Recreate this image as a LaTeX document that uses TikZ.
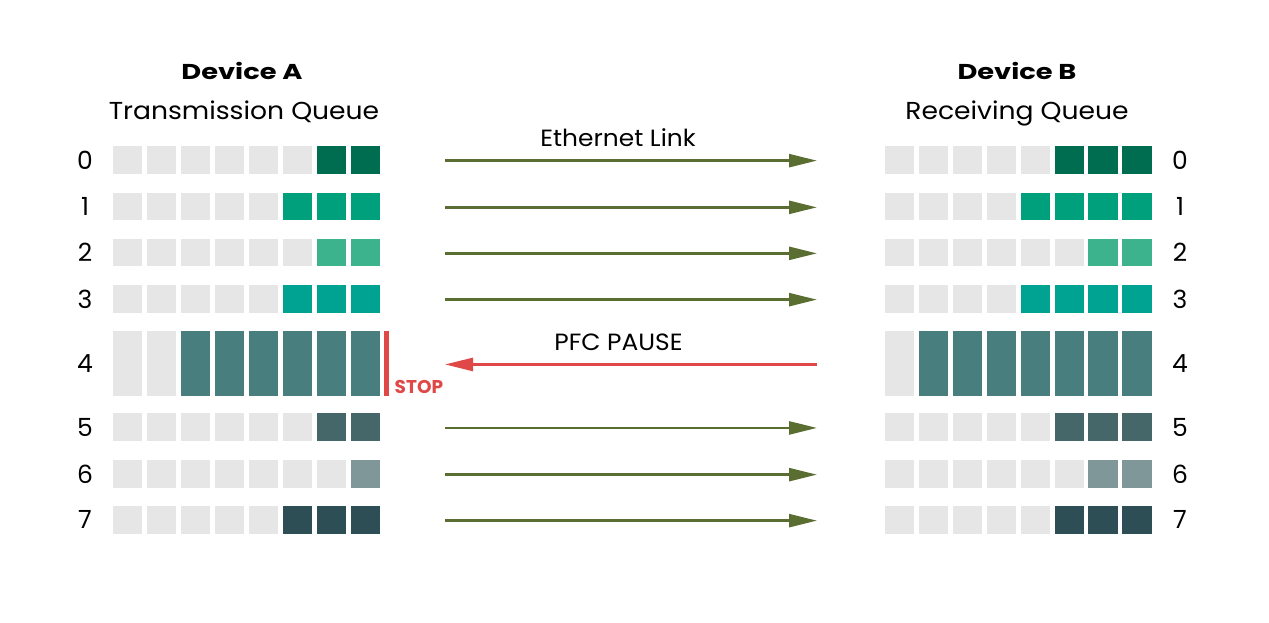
\documentclass[tikz,border=0pt]{standalone}
\usepackage{fontspec}
\setmainfont{Poppins}
\newfontfamily\titlefont[FakeStretch=1.27]{Poppins}
\newfontfamily\subfont[FakeStretch=1.085]{Poppins}
\newfontfamily\linkfont[FakeStretch=1.06]{Poppins}
\usetikzlibrary{arrows.meta}
\definecolor{cgrey}{HTML}{E6E6E6}
\definecolor{qa}{HTML}{006D50}
\definecolor{qb}{HTML}{00A07C}
\definecolor{qc}{HTML}{3DB38D}
\definecolor{qd}{HTML}{00A392}
\definecolor{qe}{HTML}{487F7E}
\definecolor{qf}{HTML}{456769}
\definecolor{qg}{HTML}{7F9799}
\definecolor{qh}{HTML}{2E4E55}
\definecolor{linkgreen}{HTML}{5B6E32}
\definecolor{pausered}{HTML}{E04848}
\tikzset{
  numlabel/.style={font=\fontsize{25}{27}\selectfont, text=black, inner sep=0pt},
  title/.style={font=\titlefont\fontsize{21.5}{24}\selectfont\bfseries, inner sep=0pt, anchor=base},
  subtitle/.style={font=\subfont\fontsize{24.5}{28}\selectfont, inner sep=0pt, anchor=base},
  linklabel/.style={font=\linkfont\fontsize{23.5}{26}\selectfont, inner sep=0pt, anchor=base},
  linkarrow/.style={draw=linkgreen, line width=2.6pt, -{Triangle[length=28pt,width=13pt]}},
  pausearrow/.style={draw=pausered, line width=2.6pt, -{Triangle[length=28pt,width=13pt]}},
}
\begin{document}
\begin{tikzpicture}[x=1pt,y=-1pt]
\useasboundingbox (0,0) rectangle (1269,623);
\def\lpitch{34.0}
\def\rpitch{33.9}
\def\cw{29.4}
\foreach \r/\top/\h/\col/\lf/\rf in {0/146/27.7/qa/2/3, 1/192.7/27.7/qb/3/4, 2/238.7/27.7/qc/2/2, 3/285/27.7/qd/3/4, 4/331/65.3/qe/6/7, 5/413.3/27.7/qf/2/3, 6/460/27.7/qg/1/2, 7/506/27.7/qh/3/3}{
  \foreach \i in {0,...,7}{
    \pgfmathtruncatemacro{\lfill}{\i>=8-\lf ? 1 : 0}
    \pgfmathtruncatemacro{\rfill}{\i>=8-\rf ? 1 : 0}
    \ifnum\lfill=1 \def\lc{\col}\else\def\lc{cgrey}\fi
    \ifnum\rfill=1 \def\rc{\col}\else\def\rc{cgrey}\fi
    \fill[\lc] ({112.8+\i*\lpitch},\top) rectangle ++(\cw,\h);
    \fill[\rc] ({885+\i*\rpitch},\top) rectangle ++(\cw,\h);
  }
  \node[numlabel] (la\r) at (85,{\top+\h/2}) {\r};
  \node[numlabel] (lb\r) at (1180,{\top+\h/2}) {\r};
  \coordinate (sa\r) at (445,{\top+\h/2+0.8});
  \coordinate (eb\r) at (817,{\top+\h/2+0.8});
}
% headings
\node[title] (devA) at (242,79.3) {Device A};
\node[subtitle] (tq) at (244,119.3) {Transmission Queue};
\node[title] (devB) at (1017,79.3) {Device B};
\node[subtitle] (rq) at (1017,119.3) {Receiving Queue};
% links
\foreach \r in {0,1,2,3,5,6,7}{
  \draw[linkarrow] (sa\r) -- (eb\r);
}
\node[linklabel] (eth) at (618,146.7) {Ethernet Link};
\draw[pausearrow] (eb4) -- (sa4);
\node[linklabel] (pfc) at (618.5,350.7) {PFC PAUSE};
% stop
\fill[pausered] (384.3,331) rectangle (388.8,396.3);
\node[font=\fontsize{18.5}{20}\selectfont\bfseries, text=pausered, inner sep=0pt, anchor=base west] (stop) at (394.5,393.3) {STOP};
\end{tikzpicture}
\end{document}
